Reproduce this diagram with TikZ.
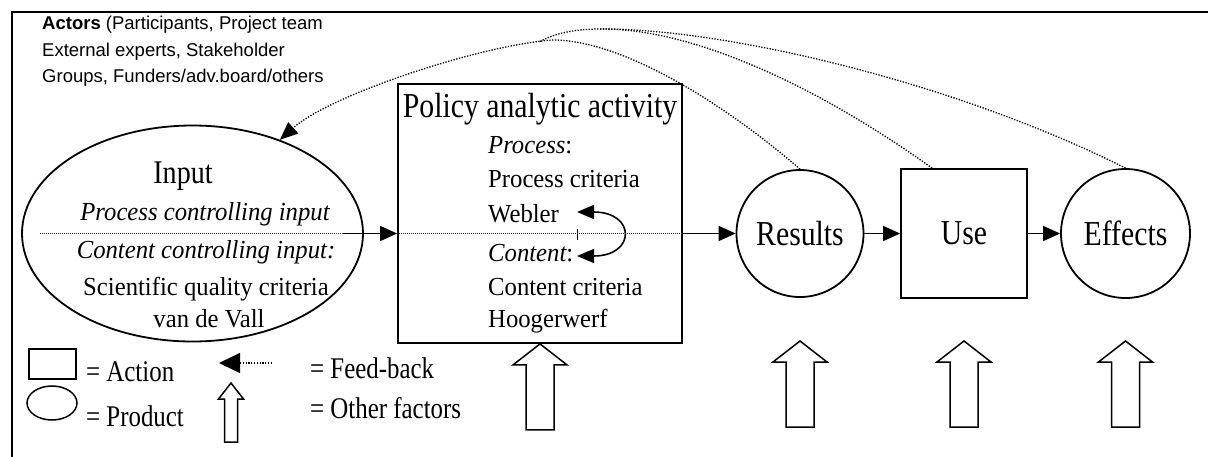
\documentclass[tikz,border=0pt]{standalone}
\usepackage{fontspec}
\setmainfont{Liberation Serif}
\setsansfont{Liberation Sans}
\newfontfamily\headfont[FakeStretch=0.85]{Liberation Serif}
\newfontfamily\bodyfont[FakeStretch=0.95]{Liberation Serif}
\newfontfamily\legfont[FakeStretch=0.83]{Liberation Serif}
\usetikzlibrary{arrows.meta,shapes.geometric,calc}

\tikzset{
  frame/.style={draw, line width=1.8pt},
  shapeline/.style={draw, line width=1.8pt, inner sep=0pt},
  flow/.style={line width=1.6pt, -{Triangle[length=17pt,width=15pt]}},
  midline/.style={line width=0.9pt, dash pattern=on 1pt off 1pt, black!80},
  fb/.style={line width=1.3pt, dash pattern=on 1.3pt off 1.5pt},
  fbarrow/.style={fb, -{Triangle[length=18pt,width=15pt]}},
  fbsample/.style={fb, -{Triangle[length=21pt,width=20pt]}},
  cyc/.style={line width=1.6pt, {Triangle[length=17pt,width=14pt]}-{Triangle[length=17pt,width=14pt]}},
  hollow/.style={draw, fill=white, line width=1.5pt, line join=miter},
  hdr/.style={font={\headfont\fontsize{35}{40}\selectfont}},
  inhdr/.style={font={\headfont\fontsize{33}{38}\selectfont}, inner sep=0pt, anchor=base},
  body/.style={font={\bodyfont\fontsize{26}{30}\selectfont}, inner sep=0pt, anchor=base},
  leg/.style={font={\legfont\fontsize{30}{34}\selectfont}, inner sep=0pt, anchor=base west},
  actors/.style={font={\sffamily\fontsize{18.5}{21}\selectfont}, inner sep=0pt, anchor=base west},
  bigup/.pic={\draw[hollow] (0,0) -- (27,21) -- (14,21) -- (14,86) -- (-14,86) -- (-14,21) -- (-27,21) -- cycle;},
  smallup/.pic={\draw[hollow] (0,0) -- (12.5,16) -- (6.5,16) -- (6.5,59) -- (-6.5,59) -- (-6.5,16) -- (-12.5,16) -- cycle;}
}

\begin{document}
\begin{tikzpicture}[x=1pt,y=-1pt]
\useasboundingbox (0,0) rectangle (1208,456);
% outer frame (runs off the lower and right edges)
\coordinate (frBL) at (12,460);
\coordinate (frTL) at (12,12);
\coordinate (frTR) at (1212,12);
\draw[frame] (frBL) -- (frTL) -- (frTR);

% actors
\node[actors] (act1) at (42,29) {\textbf{Actors} (Participants, Project team};
\node[actors] (act2) at (42,56) {External experts, Stakeholder};
\node[actors] (act3) at (42,82) {Groups, Funders/adv.board/others};

% main chain
\node[ellipse, shapeline, minimum width=341pt, minimum height=216pt] (input) at (192.5,233.5) {};
\node[rectangle, shapeline, minimum width=284pt, minimum height=259pt] (policy) at (540,213.5) {};
\node[circle, shapeline, hdr, minimum size=127pt] (results) at (800,233.5) {Results};
\node[rectangle, shapeline, hdr, minimum width=126pt, minimum height=129pt] (use) at (964,233.5) {Use};
\node[circle, shapeline, hdr, minimum size=129pt] (effects) at (1125.5,233.5) {Effects};

% input contents
\node[inhdr] (inTitle) at (183,183) {Input};
\node[body] (inProc) at (205,220) {\itshape Process controlling input};
\node[body] (inCont) at (206,258) {\itshape Content controlling input:};
\node[body] (inSci) at (206,295) {Scientific quality criteria};
\node[body] (inVdv) at (209,327) {van de Vall};

% policy contents
\node[hdr, inner sep=0pt, anchor=base] (polTitle) at (540,117) {Policy analytic activity};
\node[body, anchor=base west] (polP) at (488,153) {{\itshape Process}:};
\node[body, anchor=base west] (polPc) at (488,187) {Process criteria};
\node[body, anchor=base west] (polW) at (488,222) {Webler};
\node[body, anchor=base west] (polC) at (488,261) {{\itshape Content}:};
\node[body, anchor=base west] (polCc) at (488,295) {Content criteria};
\node[body, anchor=base west] (polH) at (488,327) {Hoogerwerf};

% process/content loop
\coordinate (cyA) at (577,212);
\coordinate (cyB) at (577,256);
\draw[cyc] (cyA) .. controls (636,212) and (636,256) .. (cyB);
\coordinate (tickA) at (577,229);
\coordinate (tickB) at (577,240);
\draw[line width=0.8pt] (tickA) -- (tickB);

% main line
\coordinate (mlA) at (40,233.5);
\coordinate (mlB) at (343,233.5);
\draw[midline] (mlA) -- (mlB);
\draw[flow] (mlB) -- (mlB -| policy.west);
\draw[midline] (mlB -| policy.west) -- (mlB -| policy.east);
\draw[flow] (mlB -| policy.east) -- (results.west);
\draw[flow] (results.east) -- (use.west);
\draw[flow] (use.east) -- (effects.west);

% feedback to input
\coordinate (fbJ) at (553,40);
\coordinate (fbPeak) at (600,29);
\coordinate (fbMerge) at (540,41.5);
\coordinate (useTop) at ($(use.north west)!0.25!(use.north east)$);
\draw[fbarrow] (results.north) .. controls (720,100) and (620,40) .. (fbJ)
  .. controls (480,45) and (330,95) .. (input.47);
\draw[fb] (useTop) .. controls (830,95) and (700,28) .. (fbPeak)
  .. controls (570,29) and (552,35) .. (fbMerge);
\draw[fb] (effects.north) .. controls (950,80) and (720,28) .. (fbPeak);

% other factors
\coordinate (arrowrow) at (0,341);
\pic (faPolicy) at (policy.south) {bigup};
\pic (faResults) at (results |- arrowrow) {bigup};
\pic (faUse) at (use |- arrowrow) {bigup};
\pic (faEffects) at (effects |- arrowrow) {bigup};

% legend
\node[rectangle, draw, line width=1.5pt, inner sep=0pt, minimum width=47pt, minimum height=30pt] (lgAction) at (52.5,364) {};
\node[leg] (lgActionTxt) at (86,381) {= Action};
\node[ellipse, draw, line width=1.5pt, inner sep=0pt, minimum width=50pt, minimum height=34pt] (lgProduct) at (52,403) {};
\node[leg] (lgProductTxt) at (86,426) {= Product};
\coordinate (lgFbA) at (272,363);
\coordinate (lgFbB) at (219,363);
\draw[fbsample] (lgFbA) -- (lgFbB);
\node[leg] (lgFbTxt) at (310,378) {= Feed-back};
\pic (lgFactor) at (231,383) {smallup};
\node[leg] (lgFactorTxt) at (310,418) {= Other factors};
\end{tikzpicture}
\end{document}
